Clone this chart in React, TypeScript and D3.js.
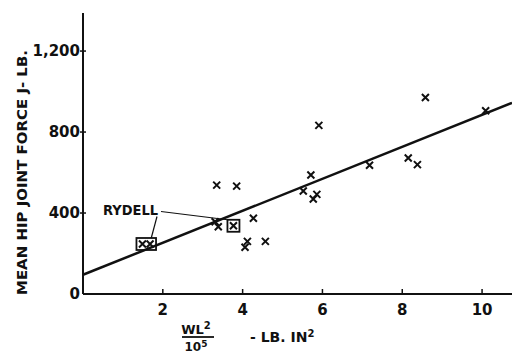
import React from 'react';
import * as d3 from 'd3';

// x = WL^2 / 10^5 (lb. in^2), y = mean hip joint force J (lb.)
const pointsX = [8.58, 10.09, 5.91, 5.71, 5.52, 5.86, 5.77, 7.18, 8.15, 8.38, 4.27, 4.12, 4.06, 4.57, 3.35, 3.85, 3.31, 3.39];
const pointsY = [971, 905, 833, 588, 509, 492, 469, 636, 672, 639, 374, 260, 231, 260, 538, 533, 357, 332];

// Rydell's points, boxed
const rydellX = [1.49, 1.68, 3.77];
const rydellY = [247, 247, 337];
const rydellGroups = [[0, 1], [2]];

const xTicks = [2, 4, 6, 8, 10];
const yTicks = [0, 400, 800, 1200];
const yTickLabels = ['0', '400', '800', '1,200'];

const fitIntercept = 95;
const fitSlope = 79;

const W = 512;
const H = 353;
const margin = { top: 13, left: 83, bottom: 59 };

const font = "'DejaVu Sans', sans-serif";

const Cross: React.FC<{ cx: number; cy: number }> = ({ cx, cy }) => (
  <path
    d={`M${cx - 3.5},${cy - 3.5}L${cx + 3.5},${cy + 3.5}M${cx - 3.5},${cy + 3.5}L${cx + 3.5},${cy - 3.5}`}
    stroke="#111"
    strokeWidth={2}
  />
);

const App: React.FC = () => {
  const x = d3.scaleLinear().domain([0, 10.75]).range([margin.left, W]);
  const y = d3.scaleLinear().domain([0, 1388]).range([H - margin.bottom, margin.top]);
  const y0 = y(0);

  const fitLine = d3.line<number>()
    .x(d => x(d))
    .y(d => y(fitIntercept + fitSlope * d));

  // boxes around Rydell's points
  const boxes = rydellGroups.map(g => {
    const xs = g.map(i => x(rydellX[i]));
    const ys = g.map(i => y(rydellY[i]));
    const pad = 6;
    return {
      x0: Math.min(...xs) - pad,
      x1: Math.max(...xs) + pad,
      y0: Math.min(...ys) - pad,
      y1: Math.max(...ys) + pad,
    };
  });

  const labelX = 103;
  const labelY = 215;

  return (
    <svg width={W} height={H} style={{ position: 'absolute', left: 0, top: 0, background: '#fff' }}>
      {/* axes */}
      <line x1={x(0)} x2={x(0)} y1={margin.top} y2={y0} stroke="#111" strokeWidth={2} />
      <line x1={x(0)} x2={W} y1={y0} y2={y0} stroke="#111" strokeWidth={2} />

      {yTicks.map((t, i) => (
        <g key={t}>
          {t > 0 && <line x1={x(0) - 3} x2={x(0) + 3} y1={y(t)} y2={y(t)} stroke="#111" strokeWidth={1.5} />}
          <text
            x={x(0) - 3}
            y={y(t)}
            dy="0.36em"
            textAnchor="end"
            fontFamily={font}
            fontWeight="bold"
            fontSize={15}
            fill="#111"
          >
            {yTickLabels[i]}
          </text>
        </g>
      ))}

      {xTicks.map(t => (
        <g key={t}>
          <line x1={x(t)} x2={x(t)} y1={y0} y2={y0 - 5} stroke="#111" strokeWidth={1.5} />
          <text x={x(t)} y={y0 + 21} textAnchor="middle" fontFamily={font} fontWeight="bold" fontSize={15} fill="#111">
            {t}
          </text>
        </g>
      ))}

      {/* regression line */}
      <path d={fitLine([0, 10.75]) || ''} fill="none" stroke="#111" strokeWidth={2.5} />

      {pointsX.map((px, i) => (
        <Cross key={i} cx={x(px)} cy={y(pointsY[i])} />
      ))}

      {rydellX.map((px, i) => (
        <Cross key={'r' + i} cx={x(px)} cy={y(rydellY[i])} />
      ))}
      {boxes.map((b, i) => (
        <rect key={i} x={b.x0} y={b.y0} width={b.x1 - b.x0} height={b.y1 - b.y0} fill="none" stroke="#111" strokeWidth={1.8} />
      ))}

      {/* Rydell label and leaders */}
      <text x={labelX} y={labelY} fontFamily={font} fontWeight="bold" fontSize={14} textLength={55} lengthAdjust="spacingAndGlyphs" fill="#111">RYDELL</text>
      <line x1={161} y1={211.5} x2={boxes[1].x0} y2={(boxes[1].y0 + boxes[1].y1) / 2 - 6} stroke="#111" strokeWidth={1.2} />
      <line x1={157} y1={216.5} x2={(boxes[0].x0 + boxes[0].x1) / 2 + 5} y2={boxes[0].y0} stroke="#111" strokeWidth={1.2} />

      {/* y axis title */}
      <text
        transform={`translate(27,172.5) rotate(-90)`}
        textAnchor="middle"
        fontFamily={font}
        fontWeight="bold"
        fontSize={14}
        textLength={245}
        lengthAdjust="spacingAndGlyphs"
        fill="#111"
      >
        MEAN HIP JOINT FORCE J- LB.
      </text>

      {/* x axis title */}
      <text x={196} y={334} textAnchor="middle" fontFamily={font} fontWeight="bold" fontSize={13} fill="#111">
        WL<tspan fontSize={10} dy={-5}>2</tspan>
      </text>
      <line x1={182} x2={214} y1={337} y2={337} stroke="#111" strokeWidth={1.8} />
      <text x={196} y={351} textAnchor="middle" fontFamily={font} fontWeight="bold" fontSize={12} fill="#111">
        10<tspan fontSize={9} dy={-4}>5</tspan>
      </text>
      <text x={250} y={342} fontFamily={font} fontWeight="bold" fontSize={14} fill="#111">
        - LB. IN<tspan fontSize={10} dy={-5}>2</tspan>
      </text>
    </svg>
  );
};

export default App;
